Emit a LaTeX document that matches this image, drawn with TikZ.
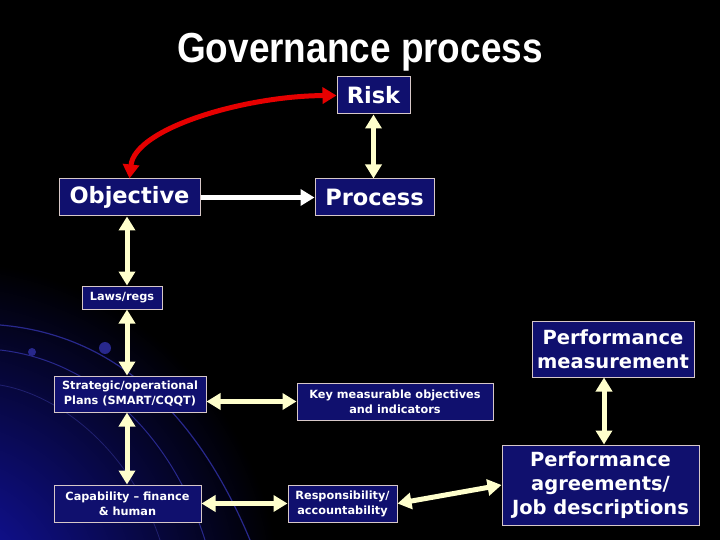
\documentclass[tikz,border=0pt]{standalone}
\usepackage{fontspec}
\usepackage{graphicx}
\setmainfont{DejaVu Sans}
\newfontfamily\titlefont{Liberation Sans}
\usetikzlibrary{arrows.meta}
\definecolor{boxfill}{RGB}{16,16,110}
\definecolor{boxline}{RGB}{215,200,200}
\definecolor{arrowyel}{RGB}{255,255,204}
\definecolor{arrowred}{RGB}{230,0,0}
\definecolor{glow}{RGB}{20,20,180}
\definecolor{arcblue}{RGB}{40,40,140}
\tikzset{
  box/.style={draw=boxline, line width=1pt, fill=boxfill, text=white,
    font=\bfseries, align=center, inner sep=0pt},
  bigtxt/.style={font=\bfseries\fontsize{22.5}{26}\selectfont},
  midtxt/.style={font=\bfseries\fontsize{19.5}{24}\selectfont},
  smalltxt/.style={font=\bfseries\fontsize{11.3}{15}\selectfont},
  dbl/.style={draw=arrowyel, line width=5pt, {Triangle[length=14pt,width=16pt]}-{Triangle[length=14pt,width=16pt]}},
  redarr/.style={draw=arrowred, line width=5pt, {Triangle[length=14pt,width=16pt]}-{Triangle[length=14pt,width=16pt]}},
  whitearr/.style={draw=white, line width=5.5pt, -{Triangle[length=14pt,width=16pt]}},
}
\begin{document}
\begin{tikzpicture}[x=1pt,y=-1pt]
  \useasboundingbox (0,0) rectangle (720,540);
  % background
  \fill[black] (0,0) rectangle (720,540);
  \begin{scope}
    \clip (0,0) rectangle (720,540);
    \shade[inner color=glow, outer color=black] (-60,600) circle (340);
    \draw[arcblue, line width=1.2pt] (0,325) .. controls (120,335) and (200,420) .. (250,540);
    \draw[arcblue, line width=1pt] (0,350) .. controls (90,360) and (170,430) .. (205,540);
    \draw[arcblue!80!black, line width=0.8pt] (0,385) .. controls (60,395) and (130,450) .. (160,540);
    \fill[arcblue] (105,348) circle (6);
    \fill[arcblue] (32,352) circle (4);
  \end{scope}

  % title
  \node[text=white] (title) at (360,52) {\titlefont\bfseries\fontsize{42}{46}\selectfont\scalebox{0.88}[1]{Governance process}};

  % boxes
  \node[box, bigtxt, minimum width=73pt, minimum height=37pt] (risk) at (373.5,95.5) {Risk};
  \node[box, bigtxt, minimum width=141pt, minimum height=37pt] (obj) at (129.5,197.5) {Objective};
  \node[box, bigtxt, minimum width=119pt, minimum height=37pt] (proc) at (374.5,197.5) {Process};
  \node[box, smalltxt, minimum width=80pt, minimum height=23pt] (laws) at (122,297.5) {Laws/regs};
  \node[box, midtxt, minimum width=162pt, minimum height=56pt] (pm) at (613,349) {Performance\\measurement};
  \node[box, smalltxt, minimum width=152pt, minimum height=36pt] (strat) at (130,394) {Strategic/operational\\Plans (SMART/CQQT)};
  \node[box, smalltxt, minimum width=196pt, minimum height=37pt] (key) at (395,401.5) {Key measurable objectives\\and indicators};
  \node[box, smalltxt, minimum width=147pt, minimum height=37pt] (cap) at (127.5,503.5) {Capability -- finance\\\& human};
  \node[box, smalltxt, minimum width=109pt, minimum height=37pt] (resp) at (342.5,503.5) {Responsibility/\\accountability};
  \node[box, midtxt, minimum width=197pt, minimum height=80pt] (pa) at (600.5,485) {Performance\\agreements/\\Job descriptions};

  % spines
  \coordinate (sp) at (127,0);
  \coordinate (sp2) at (604,0);

  % connectors
  \draw[redarr] (risk.west) .. controls (245,96) and (135,128) .. (obj.north);
  \draw[dbl] (risk.south) -- (risk.south |- proc.north);
  \draw[whitearr] (obj.east) -- (proc.west);
  \draw[dbl] (sp |- obj.south) -- (sp |- laws.north);
  \draw[dbl] (sp |- laws.south) -- (sp |- strat.north);
  \draw[dbl] (sp |- strat.south) -- (sp |- cap.north);
  \draw[dbl] (strat.east |- key.west) -- (key.west);
  \draw[dbl] (cap.east) -- (resp.west);
  \draw[dbl] (resp.east) -- (pa.west);
  \draw[dbl] (sp2 |- pm.south) -- (sp2 |- pa.north);
\end{tikzpicture}
\end{document}
